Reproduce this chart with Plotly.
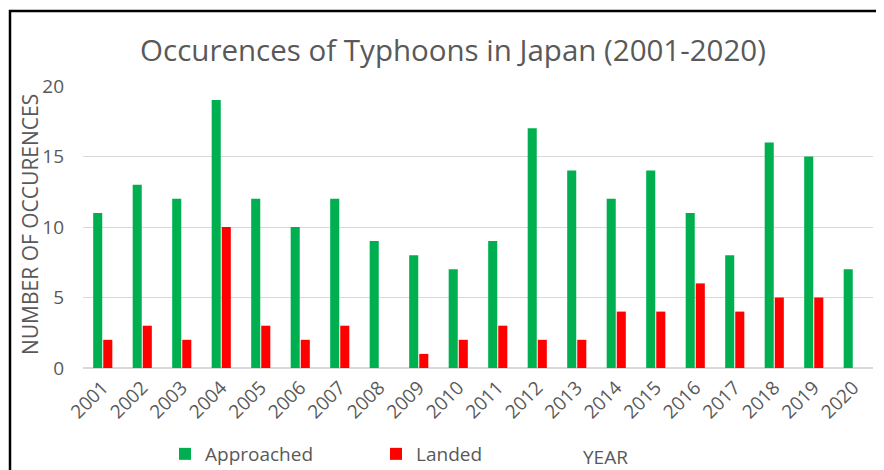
import plotly.graph_objects as go

years = [str(y) for y in range(2001, 2021)]
approached = [11, 13, 12, 19, 12, 10, 12, 9, 8, 7, 9, 17, 14, 12, 14, 11, 8, 16, 15, 7]
landed = [2, 3, 2, 10, 3, 2, 3, 0, 1, 2, 3, 2, 2, 4, 4, 6, 4, 5, 5, 0]
y_ticks = [0, 5, 10, 15, 20]

FONT = "Open Sans"
GREY = "#595959"

# the page body has an 8px margin; work in page pixels and convert
OFF = 8
W, H = 884 - OFF, 470 - OFF
PL, PR, PT, PB = 83, 873, 86, 368          # plot area in page pixels
L, R, T, B = PL - OFF, (884 - PR), PT - OFF, (470 - PB)
pw, ph = PR - PL, PB - PT


def px(x):
    return (x - PL) / pw


def py(y):
    return (PB - y) / ph


fig = go.Figure()
fig.add_trace(go.Bar(x=years, y=approached, name="Approached", marker_color="#00B050",
                     marker_line_width=0))
fig.add_trace(go.Bar(x=years, y=landed, name="Landed", marker_color="#FF0000",
                     marker_line_width=0))

fig.update_layout(
    width=W, height=H,
    margin=dict(l=L, r=R, t=T, b=B, pad=0, autoexpand=False),
    paper_bgcolor="white", plot_bgcolor="white",
    barmode="group", bargap=0.49, bargroupgap=0.1,
    font=dict(family=FONT, color=GREY, size=15),
    title=dict(text="Occurences of Typhoons in Japan (2001-2020)",
               font=dict(family=FONT, size=29.5, color=GREY),
               x=(453 - OFF) / W, xanchor="center", y=1 - (51 - OFF) / H, yanchor="middle"),
    xaxis=dict(tickangle=-45, tickfont=dict(size=19, color=GREY), showgrid=False,
               showline=True, linecolor="#D9D9D9", linewidth=1, ticks="",
               automargin=False),
    yaxis=dict(range=[0, 20], tickvals=y_ticks, tickfont=dict(size=19, color=GREY),
               showgrid=True, gridcolor="#D9D9D9", gridwidth=1, zeroline=True,
               zerolinecolor="#D9D9D9", ticks="", ticklabelstandoff=18,
               automargin=False),
    legend=dict(orientation="h", x=px(165), xanchor="left",
                y=py(454), yanchor="middle",
                font=dict(size=19, color=GREY), entrywidth=166, entrywidthmode="pixels",
                bgcolor="rgba(0,0,0,0)"),
    showlegend=True,
)

fig.add_annotation(text="NUMBER OF OCCURENCES", xref="paper", yref="paper",
                   x=px(30), y=py(225), xanchor="center", yanchor="middle", textangle=-90,
                   showarrow=False, font=dict(size=21, color=GREY, family=FONT))

fig.add_annotation(text="YEAR", xref="paper", yref="paper",
                   x=px(605), y=py(457), xanchor="center", yanchor="middle",
                   showarrow=False, font=dict(size=19, color=GREY, family=FONT))

# outer chart frame
fig.add_shape(type="rect", xref="paper", yref="paper",
              x0=px(10), x1=px(900), y0=py(490), y1=py(11),
              line=dict(color="black", width=2.5), fillcolor="rgba(0,0,0,0)", layer="below")

fig.write_html("out.html")
